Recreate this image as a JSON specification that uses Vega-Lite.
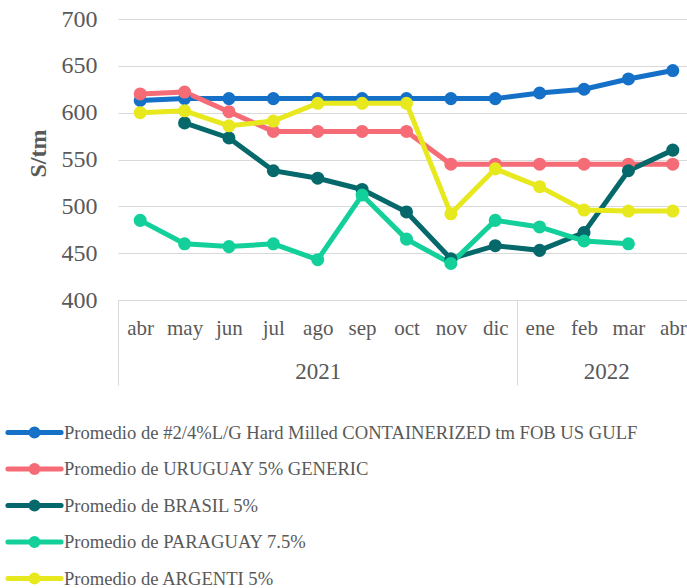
{
  "$schema": "https://vega.github.io/schema/vega-lite/v6.json",
  "width": 569,
  "height": 281,
  "autosize": "none",
  "padding": {"left": 118, "top": 19, "right": 0, "bottom": 288},
  "background": "white",
  "config": {
    "view": {"stroke": null},
    "font": "Liberation Serif"
  },
  "layer": [
    {
      "data": {
        "values": [
          {"m": 0, "s": "Promedio de #2/4%L/G Hard Milled CONTAINERIZED tm FOB US GULF", "v": 613},
          {"m": 1, "s": "Promedio de #2/4%L/G Hard Milled CONTAINERIZED tm FOB US GULF", "v": 615},
          {"m": 2, "s": "Promedio de #2/4%L/G Hard Milled CONTAINERIZED tm FOB US GULF", "v": 615},
          {"m": 3, "s": "Promedio de #2/4%L/G Hard Milled CONTAINERIZED tm FOB US GULF", "v": 615},
          {"m": 4, "s": "Promedio de #2/4%L/G Hard Milled CONTAINERIZED tm FOB US GULF", "v": 615},
          {"m": 5, "s": "Promedio de #2/4%L/G Hard Milled CONTAINERIZED tm FOB US GULF", "v": 615},
          {"m": 6, "s": "Promedio de #2/4%L/G Hard Milled CONTAINERIZED tm FOB US GULF", "v": 615},
          {"m": 7, "s": "Promedio de #2/4%L/G Hard Milled CONTAINERIZED tm FOB US GULF", "v": 615},
          {"m": 8, "s": "Promedio de #2/4%L/G Hard Milled CONTAINERIZED tm FOB US GULF", "v": 615},
          {"m": 9, "s": "Promedio de #2/4%L/G Hard Milled CONTAINERIZED tm FOB US GULF", "v": 621},
          {"m": 10, "s": "Promedio de #2/4%L/G Hard Milled CONTAINERIZED tm FOB US GULF", "v": 625},
          {"m": 11, "s": "Promedio de #2/4%L/G Hard Milled CONTAINERIZED tm FOB US GULF", "v": 636},
          {"m": 12, "s": "Promedio de #2/4%L/G Hard Milled CONTAINERIZED tm FOB US GULF", "v": 645},
          {"m": 0, "s": "Promedio de URUGUAY 5% GENERIC", "v": 620},
          {"m": 1, "s": "Promedio de URUGUAY 5% GENERIC", "v": 622},
          {"m": 2, "s": "Promedio de URUGUAY 5% GENERIC", "v": 601},
          {"m": 3, "s": "Promedio de URUGUAY 5% GENERIC", "v": 580},
          {"m": 4, "s": "Promedio de URUGUAY 5% GENERIC", "v": 580},
          {"m": 5, "s": "Promedio de URUGUAY 5% GENERIC", "v": 580},
          {"m": 6, "s": "Promedio de URUGUAY 5% GENERIC", "v": 580},
          {"m": 7, "s": "Promedio de URUGUAY 5% GENERIC", "v": 545},
          {"m": 8, "s": "Promedio de URUGUAY 5% GENERIC", "v": 545},
          {"m": 9, "s": "Promedio de URUGUAY 5% GENERIC", "v": 545},
          {"m": 10, "s": "Promedio de URUGUAY 5% GENERIC", "v": 545},
          {"m": 11, "s": "Promedio de URUGUAY 5% GENERIC", "v": 545},
          {"m": 12, "s": "Promedio de URUGUAY 5% GENERIC", "v": 545},
          {"m": 1, "s": "Promedio de BRASIL 5%", "v": 589},
          {"m": 2, "s": "Promedio de BRASIL 5%", "v": 573},
          {"m": 3, "s": "Promedio de BRASIL 5%", "v": 538},
          {"m": 4, "s": "Promedio de BRASIL 5%", "v": 530},
          {"m": 5, "s": "Promedio de BRASIL 5%", "v": 518},
          {"m": 6, "s": "Promedio de BRASIL 5%", "v": 494},
          {"m": 7, "s": "Promedio de BRASIL 5%", "v": 444},
          {"m": 8, "s": "Promedio de BRASIL 5%", "v": 458},
          {"m": 9, "s": "Promedio de BRASIL 5%", "v": 453},
          {"m": 10, "s": "Promedio de BRASIL 5%", "v": 472},
          {"m": 11, "s": "Promedio de BRASIL 5%", "v": 538},
          {"m": 12, "s": "Promedio de BRASIL 5%", "v": 560},
          {"m": 0, "s": "Promedio de PARAGUAY 7.5%", "v": 485},
          {"m": 1, "s": "Promedio de PARAGUAY 7.5%", "v": 460},
          {"m": 2, "s": "Promedio de PARAGUAY 7.5%", "v": 457},
          {"m": 3, "s": "Promedio de PARAGUAY 7.5%", "v": 460},
          {"m": 4, "s": "Promedio de PARAGUAY 7.5%", "v": 443},
          {"m": 5, "s": "Promedio de PARAGUAY 7.5%", "v": 512},
          {"m": 6, "s": "Promedio de PARAGUAY 7.5%", "v": 465},
          {"m": 7, "s": "Promedio de PARAGUAY 7.5%", "v": 439},
          {"m": 8, "s": "Promedio de PARAGUAY 7.5%", "v": 485},
          {"m": 9, "s": "Promedio de PARAGUAY 7.5%", "v": 478},
          {"m": 10, "s": "Promedio de PARAGUAY 7.5%", "v": 463},
          {"m": 11, "s": "Promedio de PARAGUAY 7.5%", "v": 460},
          {"m": 0, "s": "Promedio de ARGENTI 5%", "v": 600},
          {"m": 1, "s": "Promedio de ARGENTI 5%", "v": 602},
          {"m": 2, "s": "Promedio de ARGENTI 5%", "v": 586},
          {"m": 3, "s": "Promedio de ARGENTI 5%", "v": 591},
          {"m": 4, "s": "Promedio de ARGENTI 5%", "v": 610},
          {"m": 5, "s": "Promedio de ARGENTI 5%", "v": 610},
          {"m": 6, "s": "Promedio de ARGENTI 5%", "v": 610},
          {"m": 7, "s": "Promedio de ARGENTI 5%", "v": 492},
          {"m": 8, "s": "Promedio de ARGENTI 5%", "v": 540},
          {"m": 9, "s": "Promedio de ARGENTI 5%", "v": 521},
          {"m": 10, "s": "Promedio de ARGENTI 5%", "v": 496},
          {"m": 11, "s": "Promedio de ARGENTI 5%", "v": 495},
          {"m": 12, "s": "Promedio de ARGENTI 5%", "v": 495}
        ]
      },
      "mark": {"type": "line", "strokeWidth": 5, "point": {"filled": true, "size": 170, "opacity": 1}},
      "encoding": {
        "x": {
          "field": "m",
          "type": "quantitative",
          "scale": {"domain": [-0.5, 12.32], "nice": false, "zero": false},
          "axis": {
            "orient": "bottom",
            "values": [0, 1, 2, 3, 4, 5, 6, 7, 8, 9, 10, 11, 12],
            "labelExpr": "['abr','may','jun','jul','ago','sep','oct','nov','dic','ene','feb','mar','abr'][datum.value]",
            "ticks": false,
            "grid": false,
            "domainColor": "#d9d9d9",
            "domainWidth": 1,
            "labelFont": "Liberation Serif",
            "labelFontSize": 21,
            "labelColor": "#595959",
            "labelPadding": 17,
            "labelOverlap": false,
            "labelFlush": false,
            "labelBound": false,
            "title": null
          }
        },
        "y": {
          "field": "v",
          "type": "quantitative",
          "scale": {"domain": [400, 700], "nice": false, "zero": false},
          "axis": {
            "values": [400, 450, 500, 550, 600, 650, 700],
            "grid": true,
            "gridColor": "#d9d9d9",
            "gridWidth": 1,
            "domain": false,
            "ticks": false,
            "labelFont": "Liberation Serif",
            "labelFontSize": 24,
            "labelColor": "#595959",
            "labelPadding": 21,
            "title": "S/tm",
            "titleFont": "Liberation Serif",
            "titleFontSize": 24,
            "titleFontWeight": "bold",
            "titleColor": "#595959",
            "titleX": -80,
            "titleY": 134,
            "titleAngle": -90,
            "titleAlign": "center",
            "titleBaseline": "middle"
          }
        },
        "color": {
          "field": "s",
          "type": "nominal",
          "scale": {
            "domain": [
              "Promedio de #2/4%L/G Hard Milled CONTAINERIZED tm FOB US GULF",
              "Promedio de URUGUAY 5% GENERIC",
              "Promedio de BRASIL 5%",
              "Promedio de PARAGUAY 7.5%",
              "Promedio de ARGENTI 5%"
            ],
            "range": ["#1570C8", "#F56B76", "#05686A", "#13D09A", "#E8E81F"]
          },
          "legend": {
            "orient": "none",
            "legendX": -113,
            "legendY": 404,
            "direction": "vertical",
            "title": null,
            "symbolType": "M-3.8,0H3.8M0.5,0A0.5,0.5,0,1,1,-0.5,0A0.5,0.5,0,1,1,0.5,0Z",
            "symbolSize": 196,
            "symbolStrokeWidth": 5,
            "symbolOffset": 20,
            "labelOffset": 20,
            "labelFont": "Liberation Serif",
            "labelFontSize": 18.6,
            "labelColor": "#595959",
            "labelLimit": 700,
            "rowPadding": 9.5,
            "encode": {
              "symbols": {
                "update": {
                  "fill": {"scale": "color", "field": "value"},
                  "stroke": {"scale": "color", "field": "value"},
                  "strokeCap": {"value": "round"},
                  "opacity": {"value": 1}
                }
              }
            }
          }
        }
      }
    },
    {
      "data": {"values": [{"m": 4}]},
      "mark": {"type": "point", "opacity": 0},
      "encoding": {
        "x": {
          "field": "m",
          "type": "quantitative",
          "scale": {"domain": [-0.5, 12.32], "nice": false, "zero": false},
          "axis": {
            "orient": "bottom",
            "values": [-0.5, 4, 8.5, 10.5],
            "labelExpr": "datum.value == 4 ? '2021' : (datum.value == 10.5 ? '2022' : '')",
            "domain": false,
            "grid": false,
            "ticks": true,
            "tickSize": 85,
            "tickWidth": 1,
            "tickColor": "#d9d9d9",
            "tickOpacity": {"condition": {"test": "datum.value == -0.5 || datum.value == 8.5", "value": 1}, "value": 0},
            "labelFont": "Liberation Serif",
            "labelFontSize": 23,
            "labelColor": "#595959",
            "labelPadding": -25,
            "labelOverlap": false,
            "labelFlush": false,
            "labelBound": false,
            "title": null
          }
        }
      }
    }
  ],
  "resolve": {"scale": {"x": "independent"}, "axis": {"x": "independent"}}
}
